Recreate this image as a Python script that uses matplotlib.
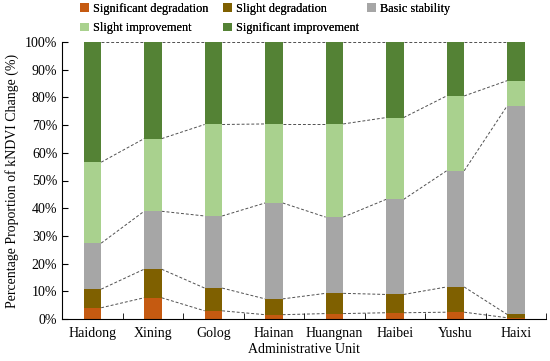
import matplotlib
matplotlib.use('Agg')
import matplotlib.pyplot as plt
import numpy as np

plt.rcParams['font.family'] = ['Liberation Serif', 'DejaVu Serif']

units = ['Haidong', 'Xining', 'Golog', 'Hainan', 'Huangnan', 'Haibei', 'Yushu', 'Haixi']
categories = ['Significant degradation', 'Slight degradation', 'Basic stability',
              'Slight improvement', 'Significant improvement']
# percentages per unit
sig_deg = [4.1, 7.7, 3.0, 1.6, 2.0, 2.3, 2.5, 0.5]
slight_deg = [6.7, 10.3, 8.2, 5.7, 7.3, 6.6, 9.1, 1.2]
basic = [16.6, 20.9, 26.0, 34.6, 27.5, 34.3, 41.9, 75.2]
slight_imp = [29.2, 26.2, 33.0, 28.5, 33.6, 29.5, 27.0, 9.1]
sig_imp = [43.4, 34.9, 29.8, 29.6, 29.6, 27.3, 19.5, 14.0]

colors = ['#C55A11', '#7F6000', '#A6A6A6', '#A9D18E', '#548235']

series = [sig_deg, slight_deg, basic, slight_imp, sig_imp]

fig = plt.figure(figsize=(5.5, 3.61), dpi=100)
ax = fig.add_axes([0.113, 0.116, 0.880, 0.768])

x = np.arange(len(units))
width = 0.29
bottom = np.zeros(len(units))
tops = []
handles = []
for vals, name, c in zip(series, categories, colors):
    vals = np.array(vals)
    h = ax.bar(x, vals, width, bottom=bottom, color=c, label=name, zorder=2)
    handles.append(h)
    bottom = bottom + vals
    tops.append(bottom.copy())

# dashed connector lines between neighbouring bars
for t in tops:
    for i in range(len(units) - 1):
        ax.plot([x[i] + width / 2, x[i + 1] - width / 2], [t[i], t[i + 1]],
                ls=(0, (3, 2)), color='#505050', lw=0.7, zorder=1)

ax.set_xlim(-0.5, 7.5)
ax.set_ylim(0, 100)
ax.set_yticks(np.arange(0, 101, 10))
ax.set_yticklabels([f'{v}%' for v in range(0, 101, 10)])
ax.set_xticks(x)
ax.set_xticklabels(units)
ax.set_xticks(np.arange(-0.5, 8, 1), minor=True)
ax.tick_params(axis='x', which='major', length=0, labelsize=10, pad=6)
ax.tick_params(axis='x', which='minor', direction='in', length=4)
ax.tick_params(axis='y', direction='in', length=4, labelsize=10)
ax.spines['top'].set_visible(False)
ax.spines['right'].set_visible(False)

ax.set_xlabel('Administrative Unit', fontsize=10, labelpad=2)
ax.set_ylabel('Percentage Proportion of kNDVI Change (%)', fontsize=10)

# legend laid out row by row in three fixed-width columns
col_groups = [[0, 3], [1, 4], [2]]
col_x = [80 / 550, 223 / 550, 367 / 550]
for xs, idx in zip(col_x, col_groups):
    leg = fig.legend([handles[i] for i in idx], [categories[i] for i in idx],
                     loc='upper left', bbox_to_anchor=(xs, 0.992), frameon=False,
                     fontsize=8.8, handlelength=0.7, handleheight=0.7,
                     handletextpad=0.4, labelspacing=0.62, borderpad=0,
                     borderaxespad=0)
    fig.add_artist(leg)

fig.savefig('out.png', dpi=100)
